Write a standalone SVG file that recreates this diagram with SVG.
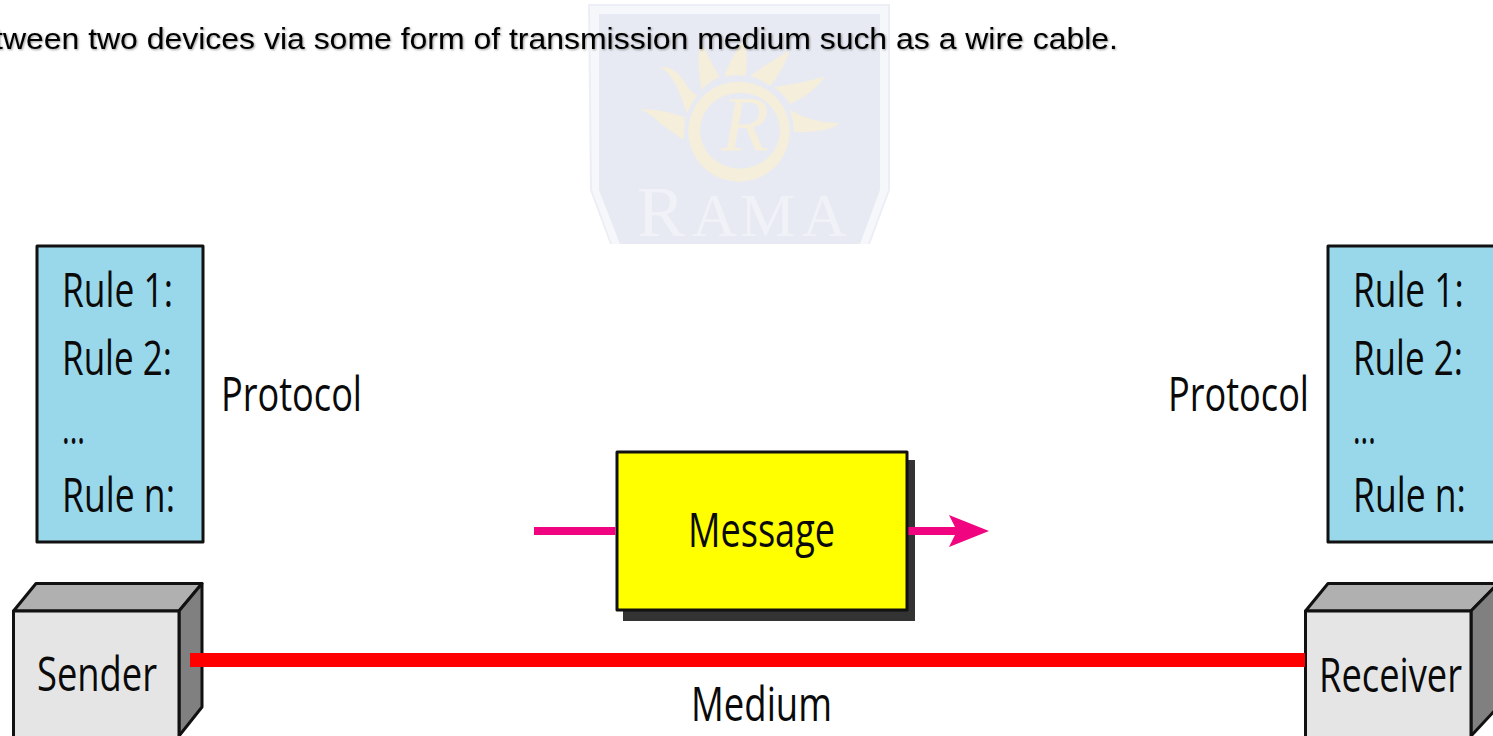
<svg xmlns="http://www.w3.org/2000/svg" width="1493" height="736" viewBox="0 0 1493 736">
<style>
.d{font-family:"Open Sans","Noto Sans","Liberation Sans",sans-serif;font-size:48px;fill:#0a0a0a}
.box{stroke:#111;stroke-width:3;stroke-linejoin:round}
.rule{fill:#99d7ea}
.front{fill:#e5e5e5}
.top{fill:#b0b0b0}
.side{fill:#808080}
.wm{font-family:"Liberation Serif",serif;fill:#f1f2f8}
.ray{fill:#f5eedb}
.pink{stroke:#f0047f;stroke-width:8;fill:none}
</style>
<defs>
<filter id="soft" x="-2%" y="-30%" width="104%" height="160%"><feDropShadow dx="1" dy="1" stdDeviation="1" flood-color="#000" flood-opacity=".4"/></filter>
</defs>
<rect width="1493" height="736" fill="#fff"/>
<g id="watermark">
<path d="M588 4H890V190L870 244H610L590 190Z" fill="#eceef5"/>
<path d="M590 6H888V190L868 244H612L592 190Z" fill="#f6f7fa"/>
<path d="M599 14H880V190L860 244H620L599 190Z" fill="#e8eaf3"/>
<g transform="translate(560 0) scale(.3333)">
<path class="ray" d="M300 200Q350 200 375 250Q395 280 412 285L380 340Q365 290 345 250Q325 215 300 200Z"/>
<path class="ray" d="M240 328Q300 325 375 352L370 420Q335 395 300 370Q270 340 240 328Z"/>
<path class="ray" d="M425 270Q410 190 420 120Q445 170 478 232Q445 245 425 270Z"/>
<path class="ray" d="M492 230Q515 170 555 110Q565 170 557 228Q520 222 492 230Z"/>
<path class="ray" d="M570 228Q625 190 690 150Q670 210 630 258Q600 235 570 228Z"/>
<path class="ray" d="M642 262Q720 250 795 230Q760 280 690 312Q670 280 642 262Z"/>
<path class="ray" d="M690 330Q760 370 840 370Q800 400 702 395Q700 360 690 330Z"/>
<path class="ray" fill-rule="evenodd" d="M385 395a152 150 0 1 0 304 0a152 150 0 1 0 -304 0ZM420 392a120 114 0 1 0 240 0a120 114 0 1 0 -240 0Z"/>
</g>
<text x="745" y="150" font-family="'Liberation Serif',serif" font-size="78" font-style="italic" text-anchor="middle" fill="#f5eedb">R</text>
<text class="wm" y="236"><tspan x="637" font-size="72">R</tspan><tspan x="692 740 802" font-size="62">AMA</tspan></text>
</g>
<text id="caption" x="-6" y="49" font-family="'Liberation Sans',Arial,sans-serif" font-size="29.8" fill="#000" textLength="1124" lengthAdjust="spacingAndGlyphs" filter="url(#soft)">tween two devices via some form of transmission medium such as a wire cable.</text>

<g id="rules-left">
<rect class="box rule" x="37" y="246" width="166" height="296"/>
<text class="d" x="62" y="307" textLength="111" lengthAdjust="spacingAndGlyphs">Rule 1:</text>
<text class="d" x="62" y="375" textLength="110" lengthAdjust="spacingAndGlyphs">Rule 2:</text>
<text class="d" x="62" y="444" textLength="23" lengthAdjust="spacingAndGlyphs">...</text>
<text class="d" x="62" y="512" textLength="113" lengthAdjust="spacingAndGlyphs">Rule n:</text>
</g>
<g id="rules-right">
<rect class="box rule" x="1328" y="246" width="170" height="296"/>
<text class="d" transform="translate(1353 307) scale(.735 1)">Rule 1:</text>
<text class="d" transform="translate(1353 375) scale(.73 1)">Rule 2:</text>
<text class="d" transform="translate(1353 444) scale(.6 1)">...</text>
<text class="d" transform="translate(1353 512) scale(.74 1)">Rule n:</text>
</g>
<g id="protocol-left"><text class="d" x="221" y="411" textLength="141" lengthAdjust="spacingAndGlyphs">Protocol</text></g>
<g id="protocol-right"><text class="d" x="1168" y="411" textLength="141" lengthAdjust="spacingAndGlyphs">Protocol</text></g>

<g id="message">
<rect x="623" y="460" width="292" height="161" fill="#333"/>
<rect class="box" x="617" y="452" width="290" height="158" fill="#ffff00"/>
<text class="d" x="688" y="547" textLength="147" lengthAdjust="spacingAndGlyphs">Message</text>
</g>

<g id="sender">
<path class="box top" d="M13.500 611L36 583.500H202L179 611Z"/>
<path class="box side" d="M179 611L202 583.500V707L179 736Z"/>
<rect class="box front" x="13.500" y="611" width="165.500" height="130"/>
<text class="d" x="37" y="691" textLength="120" lengthAdjust="spacingAndGlyphs">Sender</text>
</g>
<g id="receiver">
<path class="box top" d="M1305.500 611L1328 583.500H1498L1471 611Z"/>
<path class="box side" d="M1471 611L1498 583.500V707L1471 736Z"/>
<rect class="box front" x="1305.500" y="611" width="165.500" height="130"/>
<text class="d" x="1319" y="692" textLength="143" lengthAdjust="spacingAndGlyphs">Receiver</text>
</g>
<g id="medium-label"><text class="d" x="691" y="721" textLength="141" lengthAdjust="spacingAndGlyphs">Medium</text></g>

<g id="connectors">
<rect id="medium-line" x="190" y="653" width="1115" height="14" fill="#ff0000"/>
<path class="pink" d="M534 531H615.500"/>
<path class="pink" d="M908.500 531H962"/>
<path fill="#f0047f" d="M989 531L949 515L957 531L949 547Z"/>
</g>
</svg>
